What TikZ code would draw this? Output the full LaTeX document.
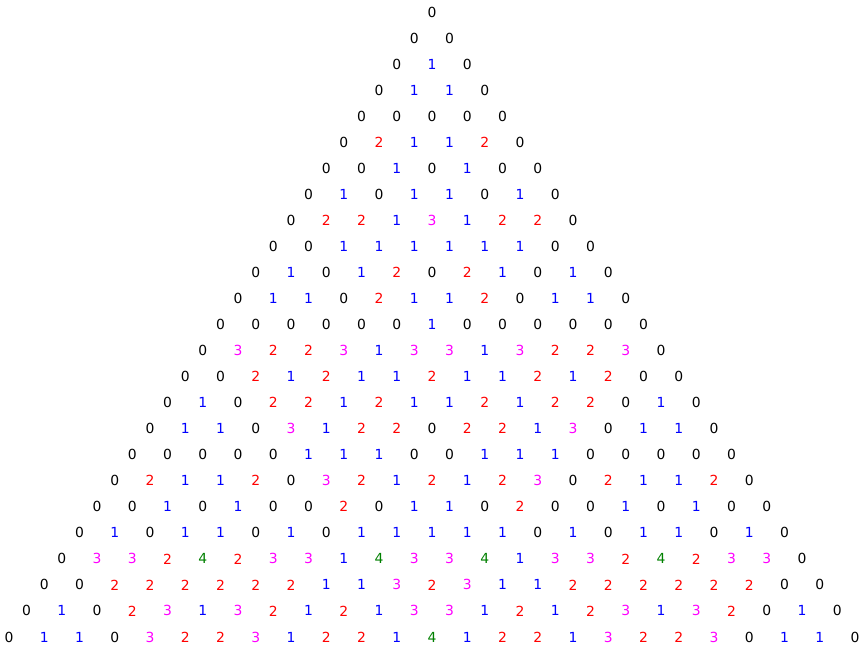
\documentclass[tikz,border=0pt]{standalone}
\usepackage{fontspec}
\setmainfont{DejaVu Sans}
\definecolor{mpgreen}{RGB}{0,128,0}
\definecolor{mpmagenta}{RGB}{255,0,255}
\definecolor{mpblue}{RGB}{0,0,255}
\definecolor{mpred}{RGB}{255,0,0}
\begin{document}
\begin{tikzpicture}[x=1pt,y=-1pt,
  num/.style={inner sep=0pt, font=\fontsize{13.9}{16}\selectfont},
  numc0/.style={text=black},
  numc1/.style={text=mpblue},
  numc2/.style={text=mpred},
  numc3/.style={text=mpmagenta},
  numc4/.style={text=mpgreen}]
\useasboundingbox (0,0) rectangle (866,650);
\foreach \row [count=\r from 0] in {
  {0},
  {0,0},
  {0,1,0},
  {0,1,1,0},
  {0,0,0,0,0},
  {0,2,1,1,2,0},
  {0,0,1,0,1,0,0},
  {0,1,0,1,1,0,1,0},
  {0,2,2,1,3,1,2,2,0},
  {0,0,1,1,1,1,1,1,0,0},
  {0,1,0,1,2,0,2,1,0,1,0},
  {0,1,1,0,2,1,1,2,0,1,1,0},
  {0,0,0,0,0,0,1,0,0,0,0,0,0},
  {0,3,2,2,3,1,3,3,1,3,2,2,3,0},
  {0,0,2,1,2,1,1,2,1,1,2,1,2,0,0},
  {0,1,0,2,2,1,2,1,1,2,1,2,2,0,1,0},
  {0,1,1,0,3,1,2,2,0,2,2,1,3,0,1,1,0},
  {0,0,0,0,0,1,1,1,0,0,1,1,1,0,0,0,0,0},
  {0,2,1,1,2,0,3,2,1,2,1,2,3,0,2,1,1,2,0},
  {0,0,1,0,1,0,0,2,0,1,1,0,2,0,0,1,0,1,0,0},
  {0,1,0,1,1,0,1,0,1,1,1,1,1,0,1,0,1,1,0,1,0},
  {0,3,3,2,4,2,3,3,1,4,3,3,4,1,3,3,2,4,2,3,3,0},
  {0,0,2,2,2,2,2,2,1,1,3,2,3,1,1,2,2,2,2,2,2,0,0},
  {0,1,0,2,3,1,3,2,1,2,1,3,3,1,2,1,2,3,1,3,2,0,1,0},
  {0,1,1,0,3,2,2,3,1,2,2,1,4,1,2,2,1,3,2,2,3,0,1,1,0}}{
  \foreach \v [count=\k from 0] in \row {
    \node[num, numc\v] (n-\r-\k) at ({432 + (\k - \r/2)*35.25}, {12 + \r*26.04}) {\v};
  }
}
\end{tikzpicture}
\end{document}
